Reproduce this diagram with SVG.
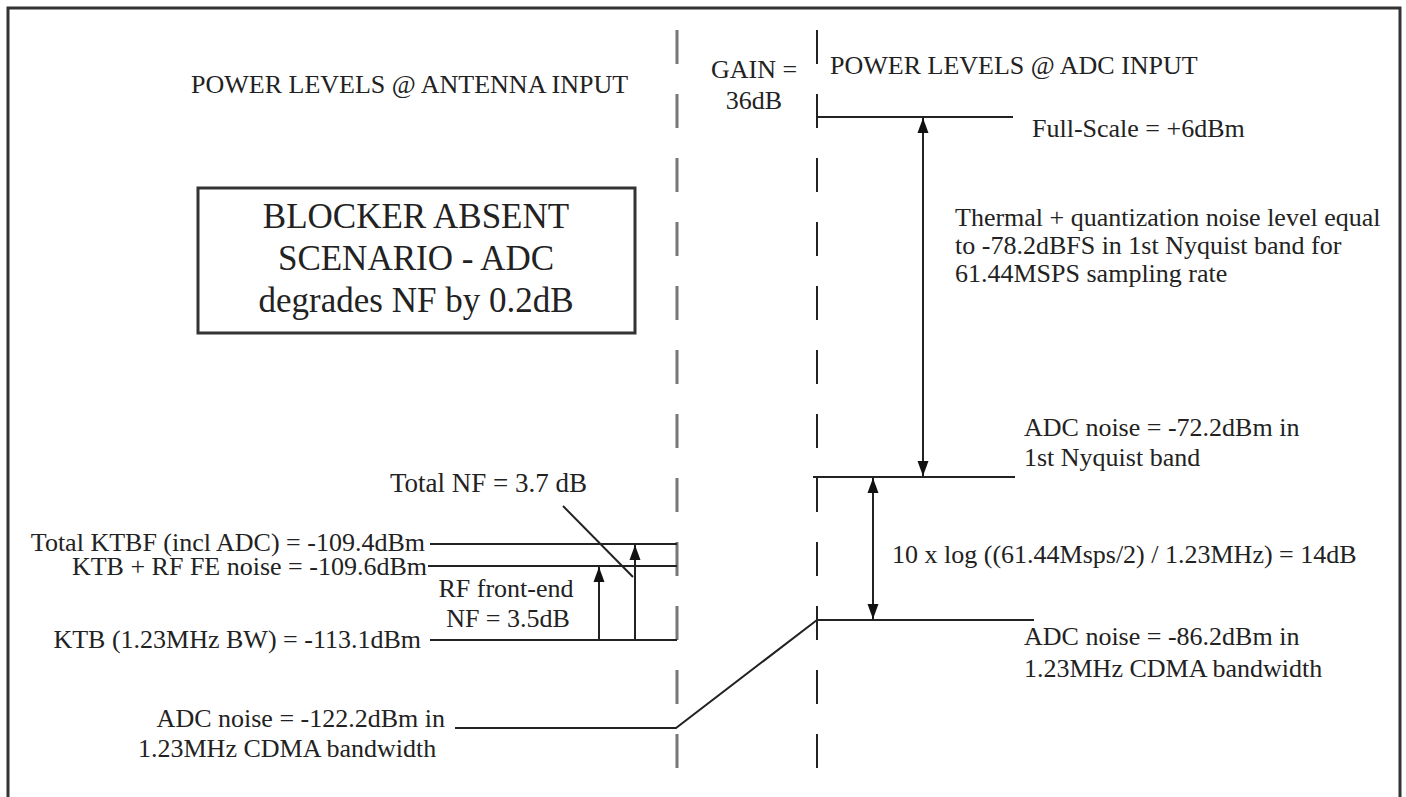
<svg xmlns="http://www.w3.org/2000/svg" width="1406" height="797" viewBox="0 0 1406 797">
<style>
text{font-family:"Liberation Serif","Times New Roman",serif;font-size:26px;fill:#222}
.big{font-size:35px;text-anchor:middle}
.ln{stroke:#222;stroke-width:2;fill:none}
.dashL{stroke:#777;stroke-width:3;stroke-dasharray:34 30;fill:none}
.dashR{stroke:#222;stroke-width:2;stroke-dasharray:34 30;fill:none}
.arr{stroke:#222;stroke-width:2;fill:none;marker-end:url(#ah)}
.darr{stroke:#222;stroke-width:2;fill:none;marker-start:url(#ah);marker-end:url(#ah)}
</style>
<defs>
<marker id="ah" markerUnits="userSpaceOnUse" markerWidth="15" markerHeight="12" viewBox="0 0 15 12" refX="15" refY="6" orient="auto-start-reverse">
<path d="M0,0.5 L15,6 L0,11.5 z" fill="#111"/>
</marker>
</defs>
<rect width="1406" height="797" fill="#fff"/>
<path d="M8,797 V8 H1400 V797" fill="none" stroke="#333" stroke-width="3"/>

<g id="header-antenna"><text x="191" y="93">POWER LEVELS @ ANTENNA INPUT</text></g>
<g id="header-gain"><text x="754" y="78" text-anchor="middle">GAIN =</text><text x="754" y="109" text-anchor="middle">36dB</text></g>
<g id="header-adc"><text x="830" y="74">POWER LEVELS @ ADC INPUT</text></g>

<g id="scenario-box">
<rect x="198" y="188" width="437" height="145" fill="none" stroke="#333" stroke-width="3"/>
<text class="big" x="416" y="228">BLOCKER ABSENT</text>
<text class="big" x="416" y="270">SCENARIO - ADC</text>
<text class="big" x="416" y="312">degrades NF by 0.2dB</text>
</g>

<g id="level-fullscale"><text x="1032" y="137">Full-Scale = +6dBm</text></g>
<g id="thermal-note">
<text x="955" y="226">Thermal + quantization noise level equal</text>
<text x="955" y="254">to -78.2dBFS in 1st Nyquist band for</text>
<text x="955" y="282">61.44MSPS sampling rate</text>
</g>
<g id="level-adc-nyquist"><text x="1024" y="436">ADC noise = -72.2dBm in</text><text x="1024" y="466">1st Nyquist band</text></g>
<g id="ratio-note"><text x="892" y="563">10 x log ((61.44Msps/2) / 1.23MHz) = 14dB</text></g>
<g id="level-adc-cdma"><text x="1024" y="645">ADC noise = -86.2dBm in</text><text x="1024" y="677">1.23MHz CDMA bandwidth</text></g>

<g id="level-total-nf"><text x="587" y="492" text-anchor="end" style="font-size:27px">Total NF = 3.7 dB</text></g>
<g id="level-ktbf"><text x="425" y="551" text-anchor="end">Total KTBF (incl ADC) = -109.4dBm</text></g>
<g id="level-ktb-rf"><text x="427" y="575" text-anchor="end">KTB + RF FE noise = -109.6dBm</text></g>
<g id="rf-nf"><text x="506" y="597" text-anchor="middle">RF front-end</text><text x="508" y="627" text-anchor="middle">NF = 3.5dB</text></g>
<g id="level-ktb"><text x="421" y="648" text-anchor="end">KTB (1.23MHz BW) = -113.1dBm</text></g>
<g id="level-adc-antenna"><text x="445" y="727" text-anchor="end">ADC noise = -122.2dBm in</text><text x="138" y="757">1.23MHz CDMA bandwidth</text></g>

<g id="connectors">
<line class="dashL" x1="677" y1="30" x2="677" y2="768"/>
<line class="dashR" x1="817" y1="30" x2="817" y2="768"/>
<line class="ln" x1="816" y1="117" x2="1013" y2="117"/>
<line class="ln" x1="813" y1="477" x2="1015" y2="477"/>
<line class="ln" x1="816" y1="620" x2="1034" y2="620"/>
<path class="ln" d="M455,728 H676 L817,620"/>
<line class="ln" x1="430" y1="544" x2="677" y2="544"/>
<line class="ln" x1="428" y1="566" x2="677" y2="566"/>
<line class="ln" x1="430" y1="640" x2="677" y2="640"/>
<line class="ln" x1="563" y1="506" x2="633" y2="577"/>
<line class="darr" x1="923" y1="118" x2="923" y2="476"/>
<line class="darr" x1="873" y1="478" x2="873" y2="619"/>
<line class="arr" x1="599" y1="640" x2="599" y2="567"/>
<line class="arr" x1="635" y1="640" x2="635" y2="545"/>
</g>
</svg>
